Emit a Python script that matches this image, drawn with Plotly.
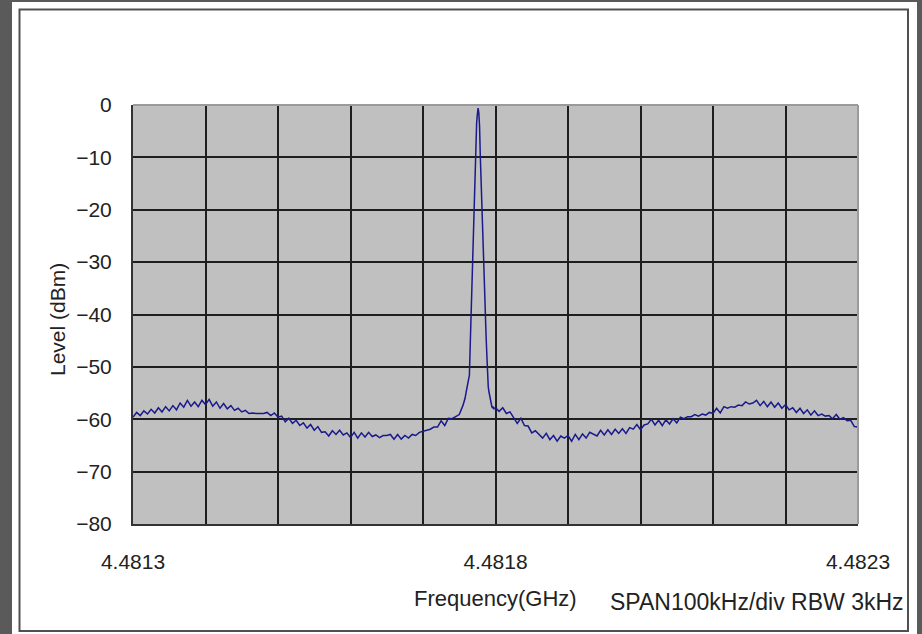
import plotly.graph_objects as go

# frequency offsets (kHz) from 4.4813 GHz and levels (dBm)
noise_left_khz = list(range(0, 456, 5))
noise_left_dbm = [
    -59.6, -58.7, -59.3, -58.4, -59.0, -58.1, -58.8, -57.8, -58.6, -57.6,
    -58.4, -57.4, -58.2, -56.9, -57.7, -56.4, -57.5, -56.7, -57.6, -56.4,
    -57.2, -56.2, -57.5, -56.7, -57.9, -57.0, -58.0, -57.4, -58.3, -57.9,
    -58.6, -58.3, -58.9, -58.8, -58.9, -58.9, -58.9, -58.7, -59.3, -58.8,
    -59.6, -59.4, -60.5, -59.8, -60.8, -60.2, -61.2, -60.7, -61.7, -61.0,
    -62.1, -61.4, -62.5, -62.4, -63.2, -62.2, -62.9, -62.1, -63.0, -62.6,
    -63.5, -62.5, -63.6, -62.6, -63.4, -62.5, -63.3, -63.0, -63.5, -63.1,
    -63.1, -62.9, -63.8, -62.9, -63.8, -63.1, -63.6, -62.9, -63.1, -62.5,
    -62.3, -62.0, -61.9, -61.5, -61.5, -60.3, -61.2, -59.8, -59.9, -59.5,
    -59.1, -57.4,
]
peak_khz = list(range(456, 500))
peak_dbm = [
    -57.0, -56.6, -56.0, -55.2, -54.4, -53.8, -53.1, -52.4, -51.6, -46.5,
    -41.5, -36.0, -30.5, -25.0, -19.8, -15.0, -10.5, -6.5, -3.4, -1.8,
    -0.6, -1.5, -4.0, -9.5, -14.3, -20.0, -25.0, -29.0, -33.5, -37.5,
    -41.0, -44.0, -47.5, -51.5, -53.8, -54.8, -55.6, -56.5, -57.2, -57.6,
    -57.9, -57.6, -58.0, -57.8,
]
noise_right_khz = list(range(500, 1001, 5))
noise_right_dbm = [
    -57.8, -58.5, -57.8, -58.9, -58.6, -59.7, -60.8, -59.8, -61.2, -61.3,
    -62.6, -62.2, -63.0, -63.6, -62.7, -63.9, -63.1, -64.2, -63.2, -63.6,
    -63.1, -64.2, -62.9, -63.9, -62.8, -63.6, -62.5, -62.8, -63.2, -62.1,
    -63.0, -62.0, -62.9, -61.9, -62.7, -61.8, -62.7, -61.6, -61.9, -61.0,
    -62.0, -61.1, -60.9, -60.0, -61.1, -60.2, -61.2, -60.1, -60.9, -59.9,
    -60.7, -59.6, -59.9, -59.5, -59.5, -59.1, -59.4, -59.0, -59.2, -58.7,
    -58.9, -57.9, -58.8, -57.6, -57.9, -57.6, -57.7, -57.3, -57.4, -56.7,
    -57.1, -56.9, -56.4, -57.4, -56.6, -57.6, -56.7, -57.7, -56.9, -57.9,
    -57.2, -58.2, -57.8, -58.7, -57.9, -58.9, -58.2, -59.2, -58.4, -59.3,
    -59.0, -59.4, -59.3, -59.9, -59.1, -60.0, -59.7, -60.3, -60.2, -61.4,
    -61.5,
]
start_ghz = 4.4813
x_tick_labels = ["4.4813", "4.4818", "4.4823"]
y_ticks = [0, -10, -20, -30, -40, -50, -60, -70, -80]

khz = noise_left_khz + peak_khz + noise_right_khz
dbm = noise_left_dbm + peak_dbm + noise_right_dbm
freq = [start_ghz + k * 1e-6 for k in khz]

W, H = 922, 634
L, R, T, B = 133, 858, 105, 524
pw, ph = R - L, B - T

def px(x):
    return (x - L) / pw

def py(y):
    return (B - y) / ph

FONT = "Liberation Sans"

fig = go.Figure()
fig.add_trace(go.Scatter(x=freq, y=dbm, mode="lines",
                         line=dict(color="#1a1a8c", width=1.5),
                         showlegend=False, hoverinfo="skip"))

fig.update_layout(
    width=W, height=H,
    margin=dict(l=L, r=W - R, t=T, b=H - B, pad=0),
    paper_bgcolor="#5a5a5a", plot_bgcolor="rgba(0,0,0,0)",
    font=dict(family=FONT, size=21, color="#222222"),
    xaxis=dict(range=[4.4813, 4.4823], tickvals=[4.4813, 4.4818, 4.4823],
               ticktext=x_tick_labels, showgrid=False, zeroline=False,
               showline=True, linecolor="#333333", linewidth=2,
               ticks="", ticklabelstandoff=18,
               minor=dict(dtick=0.0001, tick0=4.4813, showgrid=True,
                          gridcolor="#1e1e1e", gridwidth=1.6),
               tickfont=dict(size=21)),
    yaxis=dict(range=[-80, 0], tickvals=y_ticks, showgrid=True,
               gridcolor="#1e1e1e", gridwidth=1.6, zeroline=False,
               showline=True, linecolor="#333333", linewidth=2,
               ticks="", ticklabelstandoff=15, tickfont=dict(size=21)),
)

dark = "#5a5a5a"
shapes = []
# white chart sheet inside the dark frame
shapes.append(dict(type="rect", xref="paper", yref="paper",
                   x0=px(12), x1=px(917), y0=py(H), y1=py(2),
                   fillcolor="white", line=dict(width=0), layer="below"))
# gray plot area
shapes.append(dict(type="rect", xref="paper", yref="paper",
                   x0=0, x1=1, y0=0, y1=1,
                   fillcolor="#c0c0c0", line=dict(width=0), layer="below"))
# plot-area top/right light border
shapes.append(dict(type="line", xref="paper", yref="paper", x0=0, x1=1, y0=1, y1=1,
                   line=dict(color="#9a9a9a", width=2), layer="above"))
shapes.append(dict(type="line", xref="paper", yref="paper", x0=1, x1=1, y0=0, y1=1,
                   line=dict(color="#9a9a9a", width=2), layer="above"))
# inner chart border
shapes.append(dict(type="rect", xref="paper", yref="paper",
                   x0=px(19.5), x1=px(908), y0=py(631), y1=py(9.5),
                   fillcolor="rgba(0,0,0,0)", line=dict(color="#505050", width=2),
                   layer="above"))
# dark side bands (drawn on top as well)
for (x0, y0, x1, y1) in [(-20, -20, 12, H + 20), (917, -20, W + 20, H + 20), (-20, -20, W + 20, 2)]:
    shapes.append(dict(type="rect", xref="paper", yref="paper",
                       x0=px(x0), x1=px(x1), y0=py(y1), y1=py(y0),
                       fillcolor=dark, line=dict(width=0), layer="above"))
fig.update_layout(shapes=shapes)

fig.add_annotation(text="Level (dBm)", xref="paper", yref="paper",
                   x=px(57), y=py(320), showarrow=False, textangle=-90,
                   font=dict(size=21), xanchor="center", yanchor="middle")
fig.add_annotation(text="Frequency(GHz)", xref="paper", yref="paper",
                   x=px(495), y=py(598), showarrow=False,
                   font=dict(size=22), xanchor="center", yanchor="middle")
fig.add_annotation(text="SPAN100kHz/div RBW 3kHz", xref="paper", yref="paper",
                   x=px(906), y=py(602), showarrow=False,
                   font=dict(size=23), xanchor="right", yanchor="middle")

fig.write_html("out.html", config={"displayModeBar": False},
               post_script="document.body.style.margin='0';")
